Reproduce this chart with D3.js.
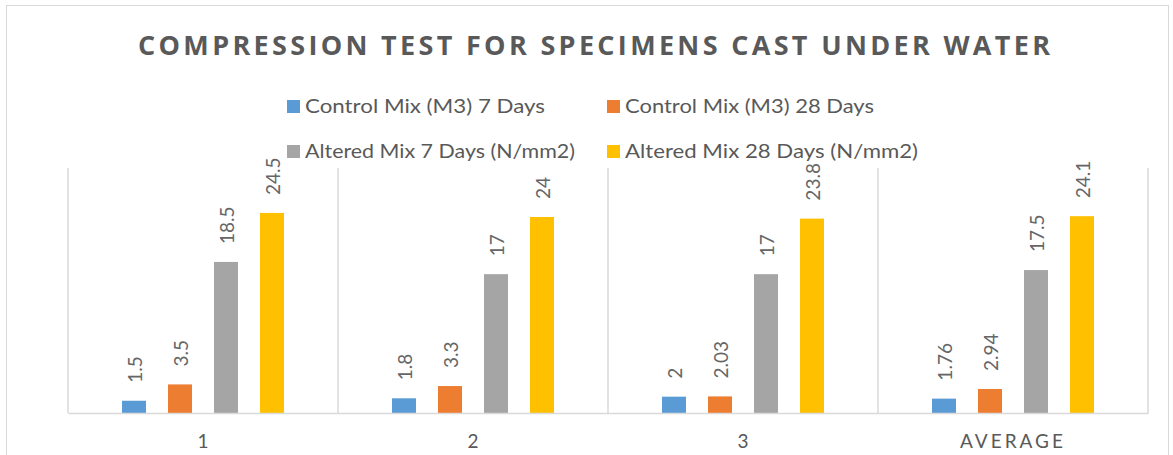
<!DOCTYPE html>
<html>
<head>
<meta charset="utf-8">
<script src="https://cdn.jsdelivr.net/npm/d3@7"></script>
<style>
  body { margin: 0; background: #fff; }
  svg { display: block; font-family: Lato, "Open Sans", sans-serif; }
</style>
</head>
<body>
<div id="chart"></div>
<script>
const categories = ["1", "2", "3", "AVERAGE"];
const seriesNames = [
  "Control Mix (M3) 7 Days",
  "Control Mix (M3) 28 Days",
  "Altered Mix 7 Days (N/mm2)",
  "Altered Mix 28 Days (N/mm2)"
];
const control7 = [1.5, 1.8, 2, 1.76];
const control28 = [3.5, 3.3, 2.03, 2.94];
const altered7 = [18.5, 17, 17, 17.5];
const altered28 = [24.5, 24, 23.8, 24.1];
const colors = ["#5B9BD5", "#ED7D31", "#A5A5A5", "#FFC000"];

(() => {
  const width = 1173, height = 455;
  const svg = d3.select("#chart").append("svg")
    .attr("width", width)
    .attr("height", height);

  // chart area border
  svg.append("rect")
    .attr("x", 6.5).attr("y", 5.5)
    .attr("width", 1162).attr("height", 470)
    .attr("fill", "none")
    .attr("stroke", "#d9d9d9");

  svg.append("text")
    .attr("x", 138).attr("y", 55)
    .attr("textLength", 912)
    .attr("lengthAdjust", "spacing")
    .style("font-family", "'Open Sans', sans-serif")
    .style("font-weight", "bold")
    .style("font-size", "27px")
    .style("fill", "#595959")
    .text("COMPRESSION TEST FOR SPECIMENS CAST UNDER WATER");

  const allSeries = [control7, control28, altered7, altered28];
  const rows = categories.map((c, i) => ({
    cat: c,
    vals: allSeries.map((s, j) => ({ key: seriesNames[j], value: s[i], color: colors[j] }))
  }));

  const left = 68, right = 1148, top = 168, bottom = 413;

  const x0 = d3.scaleBand().domain(categories).range([left, right]);
  const x1 = d3.scaleBand().domain(seriesNames)
    .range([x0.bandwidth() * 0.2, x0.bandwidth() * 0.8])
    .paddingInner(22 / 46);
  const y = d3.scaleLinear().domain([0, 30]).range([bottom, top]);

  // vertical category separators
  const edges = categories.map(c => x0(c)).concat([right]);
  svg.append("g").selectAll("line")
    .data(edges)
    .join("line")
    .attr("x1", d => d).attr("x2", d => d)
    .attr("y1", top).attr("y2", bottom)
    .attr("stroke", "#d9d9d9")
    .attr("stroke-width", 1.5);

  const groups = svg.append("g").selectAll("g")
    .data(rows)
    .join("g")
    .attr("transform", d => `translate(${x0(d.cat)},0)`);

  groups.selectAll("rect")
    .data(d => d.vals)
    .join("rect")
    .attr("x", d => x1(d.key))
    .attr("y", d => y(d.value))
    .attr("width", x1.bandwidth())
    .attr("height", d => y(0) - y(d.value))
    .attr("fill", d => d.color);

  groups.selectAll("text")
    .data(d => d.vals)
    .join("text")
    .attr("transform", d => `translate(${x1(d.key) + x1.bandwidth() / 2},${y(d.value) - 18}) rotate(-90)`)
    .attr("dominant-baseline", "central")
    .style("font-size", "19px")
    .style("fill", "#666")
    .text(d => d.value);

  // baseline axis
  const xAxis = svg.append("g")
    .attr("transform", `translate(0,${bottom})`)
    .call(d3.axisBottom(x0).tickSize(0).tickPadding(22));
  xAxis.select(".domain").attr("stroke", "#d9d9d9").attr("stroke-width", 1.5);
  xAxis.selectAll("text")
    .style("font-family", "Lato, sans-serif")
    .style("font-size", "19px")
    .style("fill", "#595959")
    .style("letter-spacing", d => d === "AVERAGE" ? "3px" : "0px");

  // legend
  const legendPos = [[287, 100], [607, 100], [287, 145], [607, 145]];
  const textLens = [240, 249, 270, 293];
  const legend = svg.append("g").selectAll("g")
    .data(seriesNames)
    .join("g")
    .attr("transform", (d, i) => `translate(${legendPos[i][0]},${legendPos[i][1]})`);
  legend.append("rect")
    .attr("width", 13).attr("height", 13)
    .attr("fill", (d, i) => colors[i]);
  legend.append("text")
    .attr("x", 18).attr("y", 13)
    .attr("textLength", (d, i) => textLens[i])
    .attr("lengthAdjust", "spacingAndGlyphs")
    .style("font-size", "20px")
    .style("fill", "#595959")
    .text(d => d);
})();
</script>
</body>
</html>
